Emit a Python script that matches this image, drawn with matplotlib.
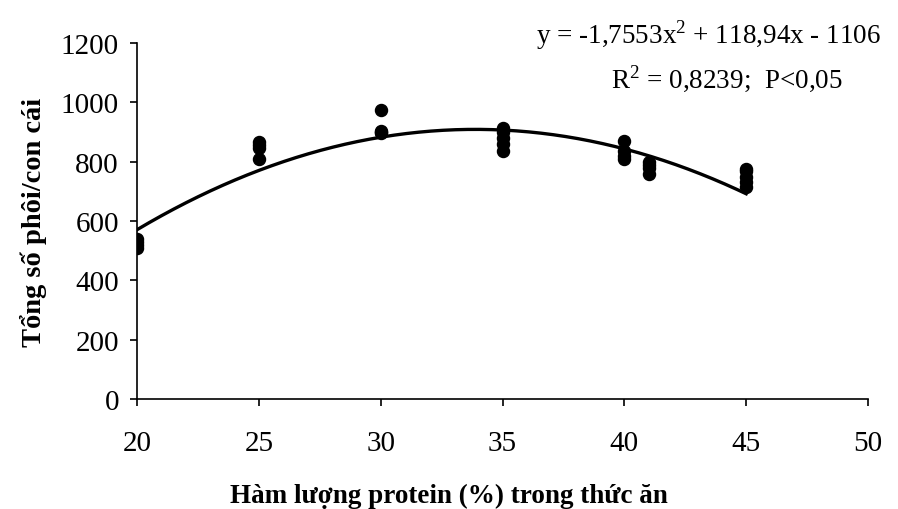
import numpy as np
import matplotlib
matplotlib.use("Agg")
import matplotlib.pyplot as plt

# observations per protein level (%)
protein = [20, 20, 20, 20,
           25, 25, 25, 25,
           30, 30, 30, 30,
           35, 35, 35, 35, 35,
           40, 40, 40, 40,
           41, 41, 41, 41,
           45, 45, 45, 45, 45]
embryos = [510, 520, 530, 540,
           810, 845, 855, 865,
           895, 900, 905, 975,
           835, 860, 880, 900, 915,
           810, 820, 835, 870,
           760, 780, 790, 800,
           715, 730, 750, 770, 775]

# quadratic fit y = a x^2 + b x + c
coef = [-1.7553, 118.94, -1106]

plt.rcParams["font.family"] = ["Liberation Serif", "DejaVu Serif"]
plt.rcParams["mathtext.fontset"] = "custom"
plt.rcParams["mathtext.rm"] = "Liberation Serif"

fig = plt.figure(figsize=(8.98, 5.10), dpi=100)
ax = fig.add_axes([0.1526, 0.2157, 0.8140, 0.6980])

xf = np.linspace(min(protein), max(protein), 200)
ax.plot(xf, np.polyval(coef, xf), color="black", lw=2.4)
ax.scatter(protein, embryos, s=75, color="black", zorder=3)

ax.set_xlim(20, 50)
ax.set_ylim(0, 1200)
ax.set_xticks(range(20, 51, 5))
ax.set_yticks(range(0, 1201, 200))
for s in ["top", "right"]:
    ax.spines[s].set_visible(False)
for s in ["left", "bottom"]:
    ax.spines[s].set_linewidth(1.2)
ax.tick_params(axis="both", direction="out", length=5, width=1.2, labelsize=21)
ax.tick_params(axis="x", pad=17)
ax.tick_params(axis="y", pad=8)

ax.set_xlabel("Hàm lượng protein (%) trong thức ăn", fontsize=19.5, fontweight="bold",
              labelpad=20, x=0.427)
ax.set_ylabel("Tổng số phôi/con cái", fontsize=20.5, fontweight="bold", labelpad=10)

ax.text(1.018, 1.025, r"y = -1,7553x$^2$ + 118,94x - 1106", transform=ax.transAxes,
        ha="right", va="center", fontsize=19.5)
ax.text(0.965, 0.90, r"R$^2$ = 0,8239;  P<0,05", transform=ax.transAxes,
        ha="right", va="center", fontsize=19.5)

fig.savefig("out.png", dpi=100)
